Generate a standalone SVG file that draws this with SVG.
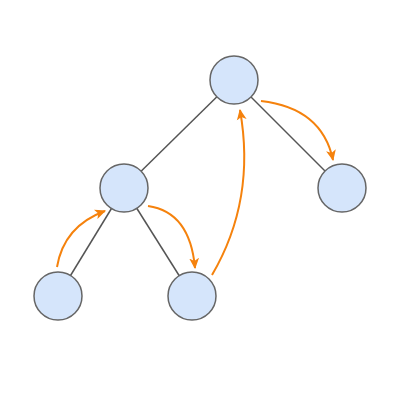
<svg xmlns="http://www.w3.org/2000/svg" width="400" height="400" viewBox="0 0 400 400">
<style>
.edge{stroke:#555;stroke-width:1.5;fill:none}
.arc{stroke:#F5820D;stroke-width:2;fill:none}
.node{fill:#D5E5FB;stroke:#666;stroke-width:1.5}
</style>
<defs>
<marker id="ah" viewBox="0 0 10 10" refX="9" refY="5" markerWidth="11" markerHeight="11" markerUnits="userSpaceOnUse" orient="auto">
<path d="M0,0.5 L10,5 L0,9.5 L2.5,5 Z" fill="#F5820D"/>
</marker>
</defs>
<rect width="400" height="400" fill="#fff"/>
<g id="connectors">
<line class="edge" x1="234" y1="80" x2="124" y2="188"/>
<line class="edge" x1="234" y1="80" x2="342" y2="188"/>
<line class="edge" x1="124" y1="188" x2="58" y2="296"/>
<line class="edge" x1="124" y1="188" x2="192" y2="296"/>
<path class="arc" d="M57,267 Q64,226 105,211" marker-end="url(#ah)"/>
<path class="arc" d="M148,206 Q190,212 195,268" marker-end="url(#ah)"/>
<path class="arc" d="M212,275 Q256,200 240,110" marker-end="url(#ah)"/>
<path class="arc" d="M261,101 Q322,108 333,160" marker-end="url(#ah)"/>
</g>
<g id="n-top"><circle class="node" cx="234" cy="80" r="24"/></g>
<g id="n-midl"><circle class="node" cx="124" cy="188" r="24"/></g>
<g id="n-right"><circle class="node" cx="342" cy="188" r="24"/></g>
<g id="n-bl"><circle class="node" cx="58" cy="296" r="24"/></g>
<g id="n-bm"><circle class="node" cx="192" cy="296" r="24"/></g>
</svg>
